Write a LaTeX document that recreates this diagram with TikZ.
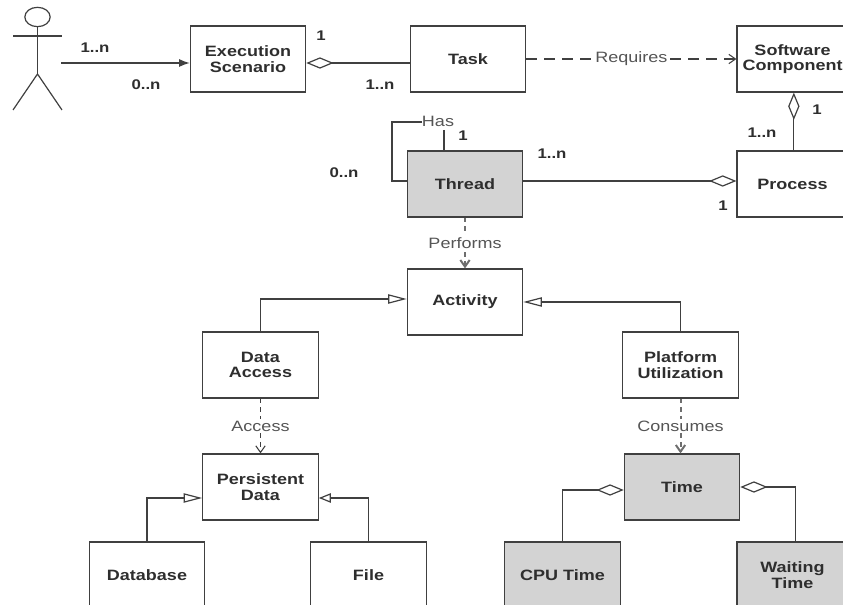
\documentclass[tikz,border=0pt]{standalone}
\usepackage{fontspec}
\newfontfamily\diagfont[FakeStretch=1.2]{Liberation Sans}
\usetikzlibrary{arrows.meta,shapes.geometric}
\definecolor{linegray}{HTML}{404040}
\definecolor{textgray}{HTML}{2E2E2E}
\definecolor{verbgray}{HTML}{555555}
\definecolor{shadegray}{HTML}{D3D3D3}
\tikzset{
	classbox/.style={draw=linegray, line width=.9pt, minimum width=86.5pt, minimum height=49.5pt, inner sep=0pt, align=center, text=textgray, font=\diagfont\fontsize{11.25}{11.5}\selectfont\bfseries},
	shadedbox/.style={classbox, fill=shadegray},
	edgebox/.style={minimum width=83.25pt},
	mult/.style={inner sep=0pt, text=textgray, font=\diagfont\fontsize{10.5}{11}\selectfont\bfseries},
	verb/.style={fill=white, inner xsep=0pt, inner ysep=1.5pt, text=verbgray, font=\diagfont\fontsize{11.25}{12}\selectfont},
	assoc/.style={draw=linegray, line width=.9pt},
	aggr/.style={assoc, -{Diamond[open, fill=white, length=20.5pt, width=8.5pt]}},
	gener/.style={assoc, -{Triangle[open, fill=white, length=14pt, width=7pt]}},
	dep/.style={draw=linegray, line width=.8pt, dash pattern=on 8pt off 5.5pt, -{Straight Barb[length=5pt, width=7pt]}},
	depshort/.style={dep, draw=verbgray!85, line width=1.5pt, dash pattern=on 3.5pt off 3pt},
}
\begin{document}
\begin{tikzpicture}[x=.75pt, y=-.75pt]
	\clip[use as bounding box] (0,0) rectangle (843,605);
	\node (scenario) [classbox] at (248,59) {Execution\\Scenario};
	\node (task) [classbox] at (468,59) {Task};
	\node (software) [classbox, edgebox] at (792.5,59) {Software\\Component};
	\node (thread) [shadedbox] at (465,184) {Thread};
	\node (process) [classbox, edgebox] at (792.5,184) {Process};
	\node (activity) [classbox] at (465,302) {Activity};
	\node (dataaccess) [classbox] at (260.5,365) {Data\\Access};
	\node (platform) [classbox] at (680.5,365) {Platform\\Utilization};
	\node (persistent) [classbox] at (260.5,487) {Persistent\\Data};
	\node (time) [shadedbox] at (682,487) {Time};
	\node (database) [classbox] at (147,575) {Database};
	\node (file) [classbox] at (368.5,575) {File};
	\node (cputime) [shadedbox] at (562.5,575) {CPU Time};
	\node (waiting) [shadedbox, edgebox] at (792.5,575) {Waiting\\Time};

	\node (head) [assoc, draw, ellipse, minimum width=19pt, minimum height=14.5pt, inner sep=0pt] at (37.5,17) {};
	\coordinate (hip) at (37.5,74);
	\coordinate (armL) at (13,36);
	\coordinate (armR) at (62,36);
	\coordinate (legL) at (13,110);
	\coordinate (legR) at (62,110);
	\coordinate (actor) at (61,63);
	\draw [assoc] (head) -- (hip);
	\draw [assoc] (armL) -- (armR);
	\draw [assoc] (legL) -- (hip) -- (legR);

	\node (m1) [mult] at (95,48) {1..n};
	\node (m2) [mult] at (146,85) {0..n};
	\node (m3) [mult] at (321,36) {1};
	\node (m4) [mult] at (380,85) {1..n};
	\node (m5) [mult] at (344,173) {0..n};
	\node (m6) [mult] at (463,136) {1};
	\node (m7) [mult] at (552,154) {1..n};
	\node (m8) [mult] at (817,110) {1};
	\node (m9) [mult] at (762,133) {1..n};
	\node (m10) [mult] at (723,206) {1};

	\node (has) [verb, fill=none] at (438,121) {Has};
	\coordinate (loop) at (392,122);
	\coordinate (hasdrop) at (444,130);

	\draw [assoc, -{Latex[length=8pt, width=6pt]}] (actor) -- (actor -| scenario.west);
	\draw [aggr] ([yshift=-3pt]task.west) -- ([yshift=-3pt]scenario.east);
	\draw [dep] (task.east) -- node [verb] {Requires} (software.west);
	\draw [aggr] ([xshift=1pt]process.north) -- ([xshift=1pt]software.south);
	\draw [aggr] ([yshift=2.25pt]thread.east) -- ([yshift=2.25pt]process.west);
	\draw [assoc] ([yshift=2.25pt]thread.west) -| (loop) -- (loop -| has.west);
	\draw [assoc] (hasdrop) -- (hasdrop |- thread.north);
	\draw [depshort] (thread.south) -- node [verb] {Performs} (activity.north);
	\draw [gener] (dataaccess.north) |- ([yshift=2.25pt]activity.west);
	\draw [gener] (platform.north) |- (activity.east);
	\draw [dep, dash pattern=on 3.5pt off 3pt] (dataaccess.south) -- node [verb] {Access} (persistent.north);
	\draw [depshort] (platform.south) -- node [verb] {Consumes} (platform.south |- time.north);
	\draw [gener] (database.north) |- ([yshift=-8.25pt]persistent.west);
	\draw [assoc, -{Triangle[open, fill=white, length=9pt, width=7pt]}] (file.north) |- ([yshift=-8.25pt]persistent.east);
	\draw [aggr] (cputime.north) |- ([yshift=-2.25pt]time.west);
	\draw [aggr] ([xshift=2.5pt]waiting.north) |- (time.east);
\end{tikzpicture}
\end{document}
